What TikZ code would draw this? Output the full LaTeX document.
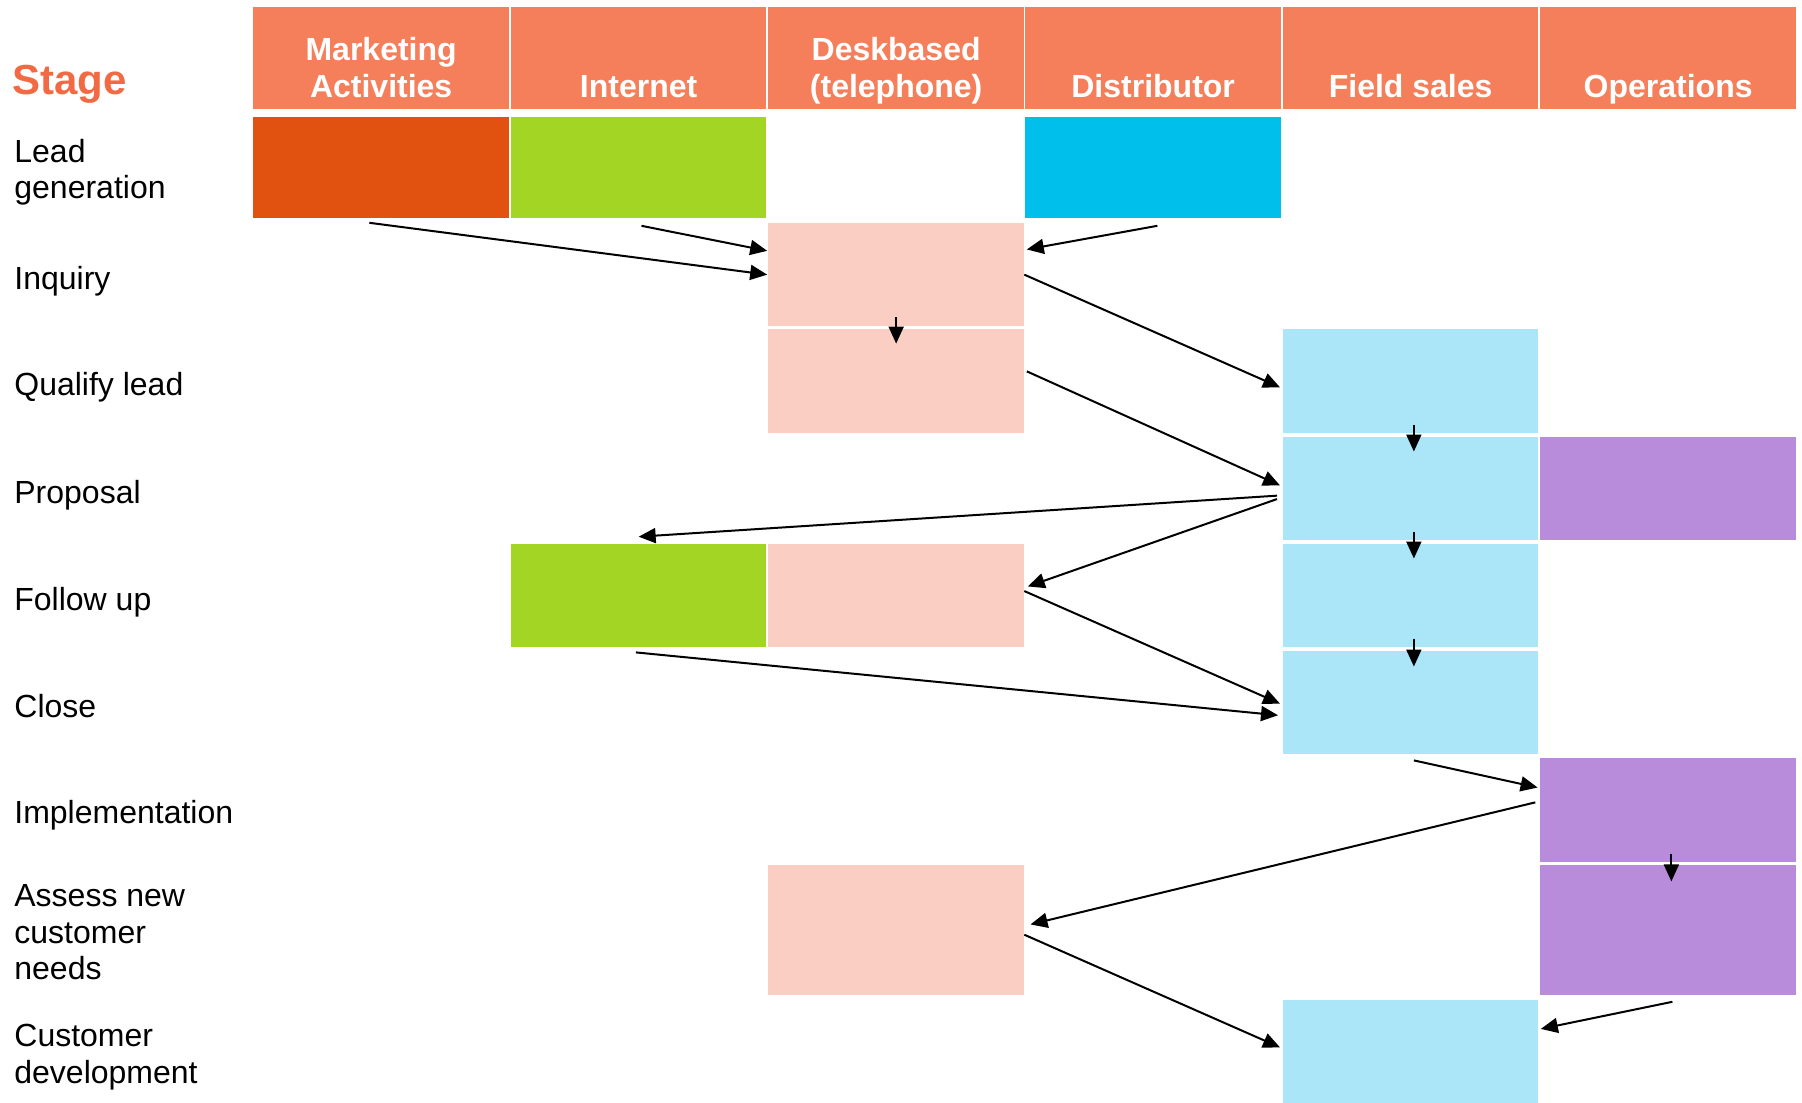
\documentclass[tikz,border=0pt]{standalone}
\usepackage{fontspec}
\setmainfont{Liberation Sans}
\usetikzlibrary{arrows.meta,positioning}

\definecolor{hdrorange}{HTML}{F47F5A}
\definecolor{stageorange}{HTML}{F26A43}
\definecolor{mktorange}{HTML}{E1510F}
\definecolor{netgreen}{HTML}{A3D624}
\definecolor{distcyan}{HTML}{00BFEB}
\definecolor{deskpink}{HTML}{FACEC2}
\definecolor{fieldblue}{HTML}{ABE5F8}
\definecolor{opspurple}{HTML}{B98BDB}

\begin{document}
\begin{tikzpicture}[x=0.5pt, y=-0.5pt,
    cell/.style={rectangle, inner sep=0pt, anchor=north west,
        minimum width=127.75pt, minimum height=51.75pt},
    hdrcell/.style={cell, fill=hdrorange, minimum height=51pt},
    hdrtxt/.style={inner sep=0pt, align=center, text=white,
        font=\fontsize{16}{18.4}\selectfont\bfseries,
        execute at begin node=\strut, execute at end node=\strut},
    stagelbl/.style={anchor=west, inner sep=0pt, align=left,
        font=\fontsize{16}{18.4}\selectfont,
        execute at begin node=\strut, execute at end node=\strut},
    flow/.style={-{Triangle[length=8.5pt,width=7.5pt]}, line width=1pt}
]
    \useasboundingbox (0,0) rectangle (1802,1102);

    % Header row
    \node[anchor=west, inner sep=0pt, text=stageorange,
        font=\fontsize{21}{24}\selectfont\bfseries] (stage) at (12,84) {Stage};
    \node[hdrcell] (hmkt) at (253,7) {};
    \node[hdrcell] (hnet) at (510.5,7) {};
    \node[hdrcell] (hdesk) at (768,7) {};
    \node[hdrcell] (hdist) at (1025,7) {};
    \node[hdrcell] (hfield) at (1282.5,7) {};
    \node[hdrcell] (hops) at (1540,7) {};
    \node[hdrtxt, above=0.5pt of hmkt.south] (tmkt) {Marketing\\Activities};
    \node[hdrtxt, above=0.5pt of hnet.south] (tnet) {Internet};
    \node[hdrtxt, above=0.5pt of hdesk.south] (tdesk) {Deskbased\\(telephone)};
    \node[hdrtxt, above=0.5pt of hdist.south] (tdist) {Distributor};
    \node[hdrtxt, above=0.5pt of hfield.south] (tfield) {Field sales};
    \node[hdrtxt, above=0.5pt of hops.south] (tops) {Operations};

    % Stage labels
    \node[stagelbl] (llead) at (14,174.5) {Lead\\generation};
    \node[stagelbl] (linq) at (14,282.5) {Inquiry};
    \node[stagelbl] (lqual) at (14,388.5) {Qualify lead};
    \node[stagelbl] (lprop) at (14,496.5) {Proposal};
    \node[stagelbl] (lfollow) at (14,603.5) {Follow up};
    \node[stagelbl] (lclose) at (14,710) {Close};
    \node[stagelbl] (limpl) at (14,816.5) {Implementation};
    \node[stagelbl] (lassess) at (14,937.5) {Assess new\\customer\\needs};
    \node[stagelbl] (ldev) at (14,1059.5) {Customer\\development};

    % Channel cells
    \node[cell, fill=mktorange, minimum height=50.5pt] (mktlead) at (253,117) {};
    \node[cell, fill=netgreen, minimum height=50.5pt] (netlead) at (510.5,117) {};
    \node[cell, fill=distcyan, minimum height=50.5pt] (distlead) at (1025,117) {};
    \node[cell, fill=deskpink] (deskinq) at (768,222.5) {};
    \node[cell, fill=deskpink] (deskqual) at (768,329) {};
    \node[cell, fill=fieldblue] (fieldqual) at (1282.5,329) {};
    \node[cell, fill=fieldblue] (fieldprop) at (1282.5,436.5) {};
    \node[cell, fill=opspurple] (opsprop) at (1540,436.5) {};
    \node[cell, fill=netgreen] (netfollow) at (510.5,543.5) {};
    \node[cell, fill=deskpink] (deskfollow) at (768,543.5) {};
    \node[cell, fill=fieldblue] (fieldfollow) at (1282.5,543.5) {};
    \node[cell, fill=fieldblue] (fieldclose) at (1282.5,650.5) {};
    \node[cell, fill=opspurple] (opsimpl) at (1540,758) {};
    \node[cell, fill=deskpink, minimum height=65pt] (deskassess) at (768,865) {};
    \node[cell, fill=opspurple, minimum height=65pt] (opsassess) at (1540,865) {};
    \node[cell, fill=fieldblue, minimum height=51.5pt] (fielddev) at (1282.5,999.5) {};

    % Flows
    \draw[flow] ([xshift=-5.9pt,yshift=-2pt]mktlead.south) -- ([xshift=-0.4pt]deskinq.west);
    \draw[flow] ([xshift=1.4pt,yshift=-3.5pt]netlead.south) -- ([xshift=-0.4pt,yshift=11.9pt]deskinq.west);
    \draw[flow] ([xshift=2.1pt,yshift=-3.5pt]distlead.south) -- ([xshift=1.25pt,yshift=12.6pt]deskinq.east);
    \draw[flow] ([yshift=5pt]deskinq.south) -- ([yshift=-7.3pt]deskqual.north);
    \draw[flow] (deskinq.east) -- ([xshift=-1.25pt,yshift=-3.1pt]fieldqual.west);
    \draw[flow] ([xshift=1.25pt,yshift=4.9pt]deskqual.east) -- ([xshift=-1.25pt,yshift=1.6pt]fieldprop.west);
    \draw[flow] ([xshift=1.6pt,yshift=4.25pt]fieldqual.south) -- ([xshift=1.6pt,yshift=-7.5pt]fieldprop.north);
    \draw[flow] ([xshift=-2.75pt,yshift=-3.5pt]fieldprop.west) -- ([yshift=3.4pt]netfollow.north);
    \draw[flow] ([xshift=-2.75pt,yshift=-5.2pt]fieldprop.west) -- ([xshift=1.75pt,yshift=4.6pt]deskfollow.east);
    \draw[flow] ([xshift=1.6pt,yshift=4.5pt]fieldprop.south) -- ([xshift=1.6pt,yshift=-7.5pt]fieldfollow.north);
    \draw[flow] ([yshift=2.3pt]deskfollow.east) -- ([xshift=-1.25pt,yshift=-0.5pt]fieldclose.west);
    \draw[flow] ([xshift=-1.4pt,yshift=-2.3pt]netfollow.south) -- ([xshift=-2.25pt,yshift=-6.3pt]fieldclose.west);
    \draw[flow] ([xshift=1.6pt,yshift=4.6pt]fieldfollow.south) -- ([xshift=1.6pt,yshift=-8pt]fieldclose.north);
    \draw[flow] ([xshift=1.6pt,yshift=-2.8pt]fieldclose.south) -- ([xshift=-1.2pt,yshift=11.3pt]opsimpl.west);
    \draw[flow] ([xshift=-2.35pt,yshift=3.9pt]opsimpl.west) -- ([xshift=3.1pt,yshift=3pt]deskassess.east);
    \draw[flow] ([xshift=1.6pt,yshift=4.4pt]opsimpl.south) -- ([xshift=1.6pt,yshift=-8.2pt]opsassess.north);
    \draw[flow] ([yshift=-2.15pt]deskassess.east) -- ([xshift=-1.25pt,yshift=2pt]fielddev.west);
    \draw[flow] ([xshift=2.1pt,yshift=-3pt]opsassess.south) -- ([xshift=1pt,yshift=11.25pt]fielddev.east);
\end{tikzpicture}
\end{document}
